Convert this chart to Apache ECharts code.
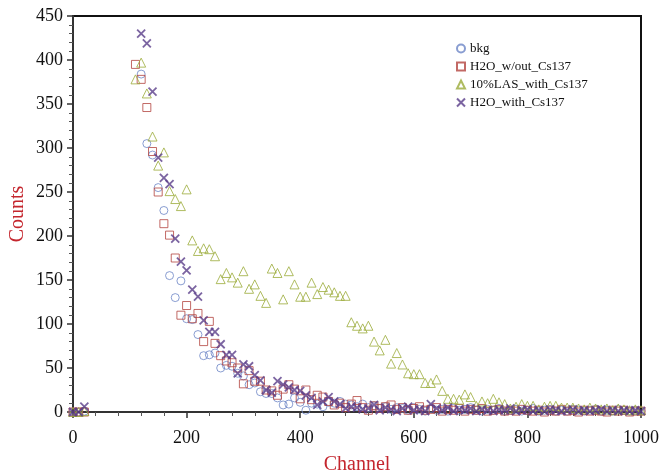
<!DOCTYPE html>
<html>
<head>
<meta charset="utf-8">
<script src="https://cdn.jsdelivr.net/npm/echarts@6/dist/echarts.min.js"></script>
<style>
html, body { margin: 0; padding: 0; background: #fff; }
#main { width: 660px; height: 475px; }
</style>
</head>
<body>
<div id="main"></div>
<script>
// channels: 0,10,20 then 110..1000 step 10
var channels = [0, 10, 20];
for (var c = 110; c <= 1000; c += 10) channels.push(c);

var bkg = [0, 0, 1,
    null, 384, 305, 292, 255, 229, 155, 130, 149, 106,
    105, 88, 64, 65, 67, 50, 53, 52, 44, 41,
    31, 33, 23, 21, 21, 16, 8, 9, 16, 11,
    2, 10, 9, 6, 11, 10, 12, 9, 8, 6,
    9, 5, 7, 4, 6, 3, 5, 4, 2, 5,
    3, 1, 4, 2, 3, 1, 4, 2, 3, 5,
    2, 1, 3, 2, 4, 1, 2, 3, 1, 2,
    4, 1, 2, 3, 1, 2, 1, 3, 2, 1,
    2, 3, 1, 2, 1, 3, 2, 1, 2, 1];

var h2oWithout = [0, 0, 0,
    395, 378, 346, 296, 250, 214, 201, 175, 110, 121,
    106, 112, 80, 103, 78, 64, 58, 56, 50, 32,
    47, 35, 35, 25, 24, 19, 26, 31, 26, 15,
    25, 14, 19, 17, 12, 8, 10, 5, 9, 13,
    5, 2, 7, 4, 6, 8, 3, 5, 2, 4,
    6, 2, 3, 5, 1, 3, 2, 4, 1, 3,
    2, 4, 1, 2, 3, 1, 2, 1, 3, 2,
    1, 2, 0, 2, 1, 3, 1, 2, 0, 2,
    1, 2, 1, 0, 2, 1, 2, 0, 1, 1];

var las10 = [0, 0, 1,
    378, 397, 362, 313, 280, 295, 251, 242, 234, 253,
    195, 183, 186, 185, 177, 151, 158, 153, 147, 160,
    140, 145, 132, 124, 163, 158, 128, 160, 145, 131,
    131, 147, 134, 142, 139, 136, 132, 132, 102, 98,
    95, 98, 80, 70, 82, 55, 67, 54, 44, 43,
    43, 33, 33, 37, 24, 15, 15, 14, 20, 17,
    7, 12, 10, 15, 11, 9, 4, 6, 9, 7,
    7, 3, 6, 7, 7, 5, 5, 5, 4, 3,
    5, 4, 3, 4, 2, 4, 3, 2, 3, 2];

var h2oWith = [0, 0, 6,
    null, 430, 419, 364, 289, 266, 259, 197, 171, 161,
    139, 131, 104, 91, 91, 77, 65, 65, 44, 54,
    52, 42, 36, 25, 22, 35, 31, 28, 25, 24,
    19, 16, 8, 12, 17, 12, 9, 4, 6, 5,
    3, 4, 8, 2, 5, 3, 1, 4, 6, 2,
    3, 1, 9, 4, 2, 5, 1, 3, 2, 4,
    1, 3, 2, 1, 3, 2, 4, 1, 2, 3,
    1, 2, 1, 3, 2, 1, 2, 3, 1, 2,
    1, 2, 3, 1, 2, 1, 2, 1, 2, 1];

var seriesNames = ['bkg', 'H2O_w/out_Cs137', '10%LAS_with_Cs137', 'H2O_with_Cs137'];
var seriesValues = [bkg, h2oWithout, las10, h2oWith];
var colors = ['#6b85c6', '#b3443e', '#9bab3a', '#5a3d8a'];
var symbols = ['circle', 'rect', 'triangle', 'path://M0,0L10,10M10,0L0,10'];
var sizes = [8, 8, 9, 8];

var serif = 'Liberation Serif';

function pairs(vals) {
    var out = [];
    channels.forEach(function (ch, i) {
        if (vals[i] !== null) out.push([ch, vals[i]]);
    });
    return out;
}

var myChart = echarts.init(document.getElementById('main'));

var option = {
    animation: false,
    grid: {
        left: 73, right: 19, top: 16, bottom: 63,
        outerBoundsMode: 'none',
        containLabel: false,
        show: true, borderColor: '#111', borderWidth: 2
    },
    legend: {
        orient: 'vertical',
        left: 451, top: 37,
        itemGap: 5,
        itemWidth: 8, itemHeight: 8,
        textStyle: { fontFamily: serif, fontSize: 13, color: '#111' },
        data: seriesNames
    },
    xAxis: {
        type: 'value',
        min: 0, max: 1000, interval: 200,
        name: 'Channel',
        nameLocation: 'middle',
        nameGap: 43,
        nameMoveOverlap: false,
        nameTextStyle: { fontFamily: serif, fontSize: 20, color: '#c4262e' },
        axisLine: { lineStyle: { color: '#333', width: 2 } },
        axisTick: { length: 6, lineStyle: { color: '#333', width: 1.5 } },
        minorTick: { show: true, splitNumber: 5, length: 4, lineStyle: { color: '#555' } },
        axisLabel: { fontFamily: serif, fontSize: 18, color: '#111', margin: 17,
            formatter: function (v) { return String(v); } },
        splitLine: { show: false }
    },
    yAxis: {
        type: 'value',
        min: 0, max: 450, interval: 50,
        name: 'Counts',
        nameLocation: 'middle',
        nameGap: 45,
        nameMoveOverlap: false,
        nameTextStyle: { fontFamily: serif, fontSize: 20, color: '#c4262e' },
        axisLine: { show: true, lineStyle: { color: '#333', width: 2 } },
        axisTick: { show: true, length: 6, lineStyle: { color: '#333', width: 1.5 } },
        minorTick: { show: true, splitNumber: 5, length: 4, lineStyle: { color: '#555' } },
        axisLabel: { fontFamily: serif, fontSize: 18, color: '#111', margin: 10 },
        splitLine: { show: false }
    },
    series: seriesNames.map(function (name, k) {
        return {
            name: name,
            type: 'scatter',
            symbol: symbols[k],
            symbolSize: sizes[k],
            itemStyle: {
                color: 'rgba(255,255,255,0)',
                borderColor: colors[k],
                borderWidth: k === 3 ? 1.8 : 1
            },
            emphasis: { disabled: true },
            data: pairs(seriesValues[k])
        };
    })
};

myChart.setOption(option);
</script>
</body>
</html>
